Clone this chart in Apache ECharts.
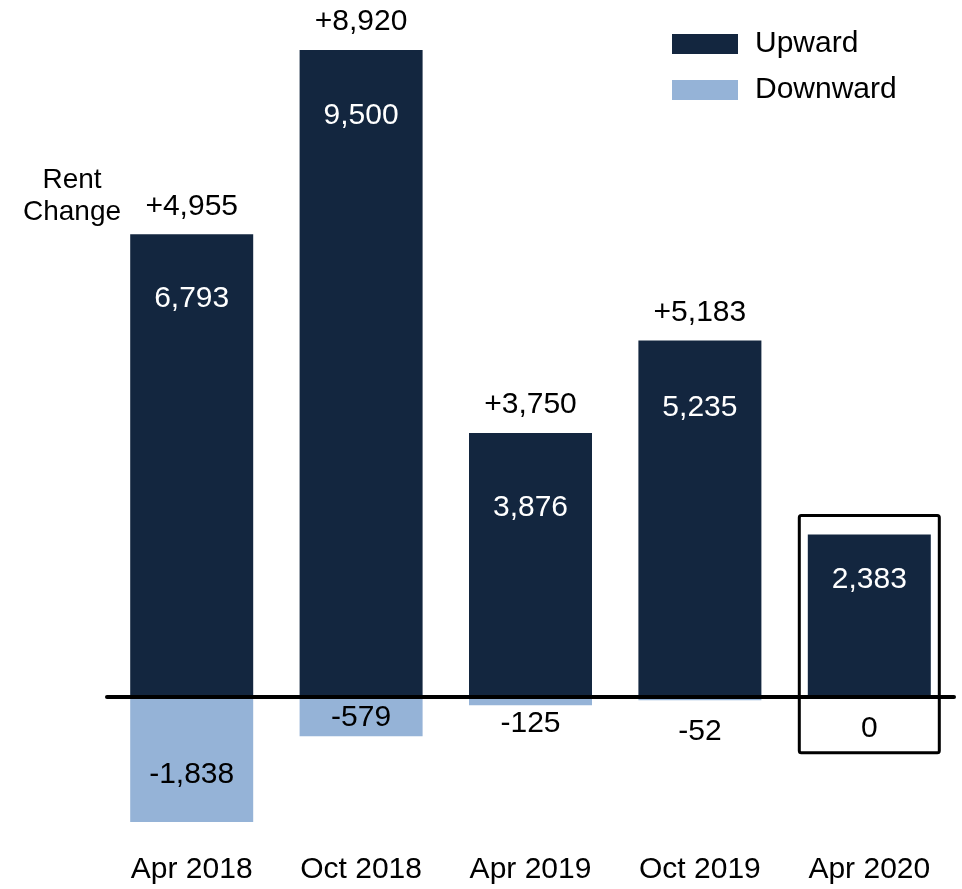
<!DOCTYPE html>
<html>
<head>
<meta charset="utf-8">
<script src="https://cdn.jsdelivr.net/npm/echarts@6/dist/echarts.min.js"></script>
<style>
  html, body { margin: 0; padding: 0; background: #fff; }
  #chart { width: 962px; height: 889px; }
</style>
</head>
<body>
<div id="chart"></div>
<script>
const categories = ['Apr 2018', 'Oct 2018', 'Apr 2019', 'Oct 2019', 'Apr 2020']
const upward = [6793, 9500, 3876, 5235, 2383]
const downward = [-1838, -579, -125, -52, 0]
const netChange = [4955, 8920, 3750, 5183, null]

// label placement tweaks (px), not data
const upLabelDist = [49, 51, 60, 52, 30]
const downLabelDist = [63, 6, 12, 20, 17]

const font = "'Liberation Sans', Arial, sans-serif"
const fmt = v => v.toLocaleString('en-US')

const chart = echarts.init(document.getElementById('chart'))
const option = {
  animation: false,
  textStyle: { fontFamily: font },
  grid: { left: 107, right: 8, top: 16, bottom: 56 },
  legend: {
    data: ['Upward', 'Downward'],
    orient: 'vertical',
    left: 672,
    top: 29,
    padding: 0,
    icon: 'rect',
    itemWidth: 66,
    itemHeight: 20,
    itemGap: 16,
    textStyle: { fontSize: 30, lineHeight: 28, color: '#000', fontFamily: font, padding: [0, 0, 0, 12] }
  },
  xAxis: [
    {
      type: 'category',
      data: categories,
      axisLine: { show: false, onZero: false },
      axisTick: { show: false },
      axisLabel: { fontSize: 30, color: '#000', margin: 22, fontFamily: font }
    },
    {
      type: 'category',
      data: categories,
      z: 5,
      axisLine: { show: true, onZero: true, lineStyle: { color: '#000', width: 4 } },
      axisTick: { show: false },
      axisLabel: { show: false }
    }
  ],
  yAxis: {
    type: 'value',
    min: -2000,
    max: 10000,
    show: false,
    splitLine: { show: false }
  },
  series: [
    {
      name: 'Upward',
      type: 'bar',
      barWidth: 123,
      barGap: '-100%',
      itemStyle: { color: '#13263f' },
      label: {
        show: true,
        position: 'insideTop',
        color: '#fff',
        fontSize: 30,
        fontFamily: font,
        formatter: p => fmt(p.value)
      },
      data: upward.map((v, i) => ({ value: v, label: { distance: upLabelDist[i] } }))
    },
    {
      name: 'Downward',
      type: 'bar',
      barWidth: 123,
      barGap: '-100%',
      itemStyle: { color: '#95b3d7' },
      label: {
        show: true,
        position: 'insideTop',
        color: '#000',
        fontSize: 30,
        fontFamily: font,
        formatter: p => fmt(p.value)
      },
      data: downward.map((v, i) => ({ value: v, label: { distance: downLabelDist[i] } }))
    },
    {
      name: 'Net',
      type: 'scatter',
      symbolSize: 0,
      silent: true,
      itemStyle: { opacity: 1 },
      label: {
        show: true,
        position: 'top',
        distance: 13,
        color: '#000',
        opacity: 1,
        fontSize: 30,
        fontFamily: font,
        formatter: p => '+' + fmt(netChange[p.dataIndex])
      },
      data: upward.map((v, i) => (netChange[i] == null ? '-' : v))
    }
  ]
}
option && chart.setOption(option)

// box around the latest period
const last = categories.length - 1
const base = chart.convertToPixel({ xAxisIndex: 0, yAxisIndex: 0 }, [last, 0])
const topPx = chart.convertToPixel({ xAxisIndex: 0, yAxisIndex: 0 }, [last, upward[last]])
chart.setOption({
  graphic: [
    {
      type: 'rect',
      shape: { x: base[0] - 70, y: topPx[1] - 19, width: 140, height: base[1] - topPx[1] + 19 + 56, r: 2 },
      style: { fill: 'none', stroke: '#000', lineWidth: 3 },
      z: 10
    },
    {
      type: 'text',
      x: 72,
      y: 164,
      style: { text: 'Rent\nChange', font: '28px ' + font, fill: '#000', align: 'center', verticalAlign: 'top', lineHeight: 32 }
    }
  ]
})
</script>
</body>
</html>
